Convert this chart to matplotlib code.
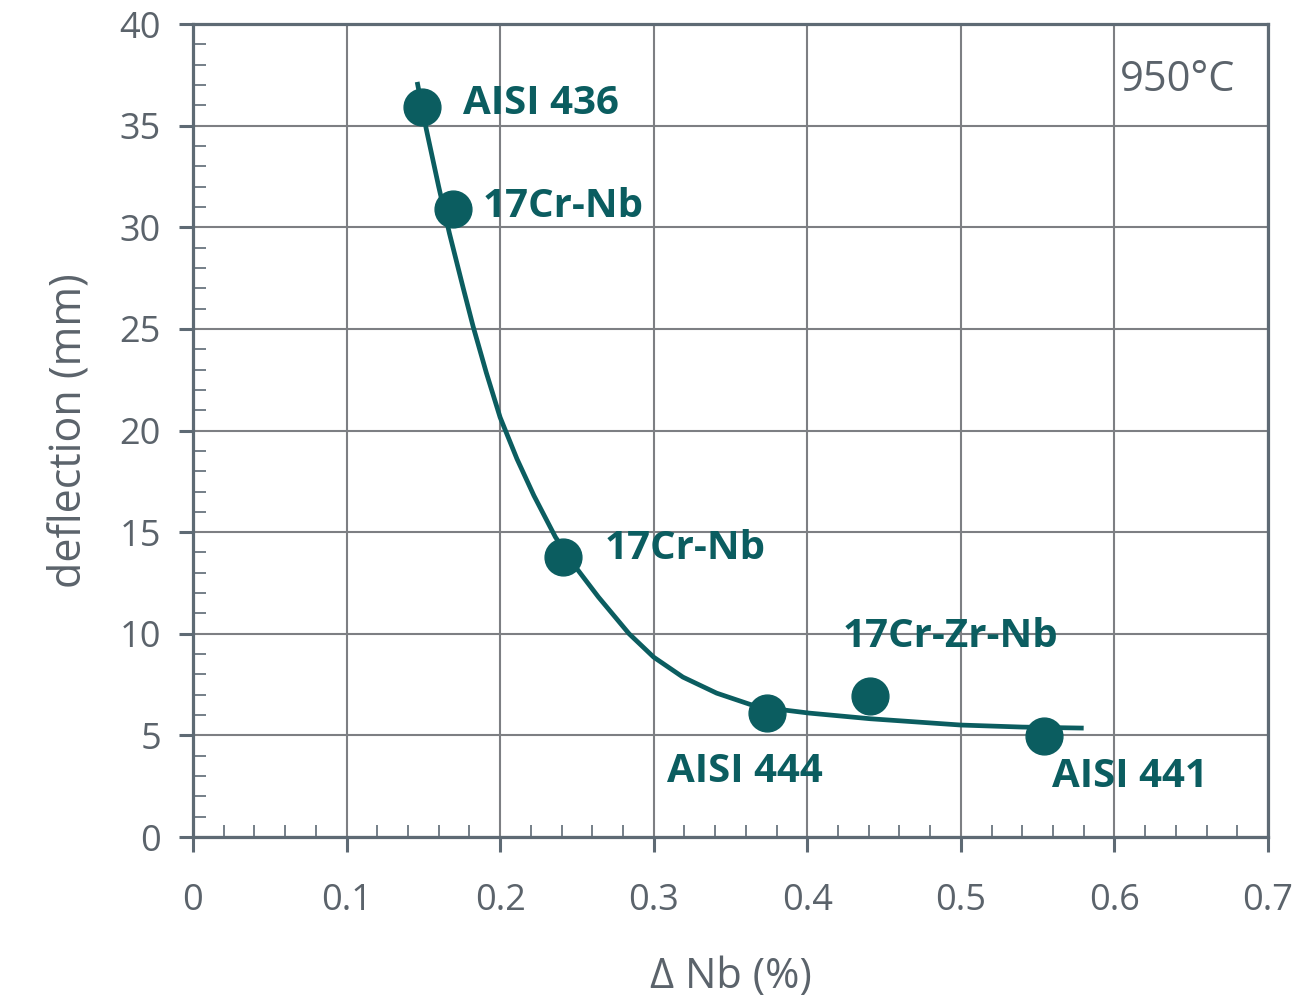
import numpy as np
import matplotlib.pyplot as plt
from matplotlib.ticker import MultipleLocator

# measured points
labels = ["AISI 436", "17Cr-Nb", "17Cr-Nb", "AISI 444", "17Cr-Zr-Nb", "AISI 441"]
nb = [0.149, 0.169, 0.241, 0.374, 0.441, 0.554]
deflection = [35.9, 30.9, 13.8, 6.1, 6.95, 4.98]

# trend curve
curve_nb = [0.146, 0.152, 0.160, 0.167, 0.176, 0.1825, 0.191, 0.200, 0.211, 0.222,
            0.236, 0.250, 0.264, 0.284, 0.300, 0.319, 0.341, 0.363, 0.374, 0.386,
            0.401, 0.441, 0.500, 0.540, 0.580]
curve_def = [37.15, 34.8, 32.0, 29.7, 27.0, 25.1, 22.85, 20.65, 18.6, 16.8,
             14.76, 13.2, 11.81, 10.0, 8.85, 7.87, 7.08, 6.52, 6.36, 6.24,
             6.1, 5.82, 5.51, 5.41, 5.36]

teal = "#0b5d60"
gray = "#5b636b"
spine_col = "#5e6a74"

plt.rcParams['font.family'] = ['Open Sans', 'DejaVu Sans']

fig = plt.figure(figsize=(13.03, 10.01), dpi=100)
ax = fig.add_axes([0.1481, 0.1638, 0.8250, 0.8122])

ax.plot(curve_nb, curve_def, color=teal, lw=3.4, solid_capstyle='butt',
        solid_joinstyle='round', zorder=3)
ax.plot(nb, deflection, 'o', color=teal, ms=26.5, zorder=4)

# label offsets in points (dx, dy, ha)
offsets = [(30, 3, 'left'), (22, 2, 'left'), (30, 6, 'left'),
           (-16, -42, 'center'), (58, 43, 'center'), (62, -29, 'center')]
for lab, x, y, (dx, dy, ha) in zip(labels, nb, deflection, offsets):
    ax.annotate(lab, (x, y), xytext=(dx, dy), textcoords='offset points',
                ha=ha, va='center', color=teal, fontsize=29, fontweight='bold')

ax.text(0.970, 0.931, "950°C", transform=ax.transAxes, ha='right', va='center',
        color=gray, fontsize=30)

ax.set_xlim(0, 0.7)
ax.set_ylim(0, 40)
ax.set_xticks(np.arange(0, 0.71, 0.1))
ax.set_xticklabels(["0", "0.1", "0.2", "0.3", "0.4", "0.5", "0.6", "0.7"])
ax.xaxis.set_minor_locator(MultipleLocator(0.02))
ax.yaxis.set_major_locator(MultipleLocator(5))
ax.yaxis.set_minor_locator(MultipleLocator(1))
ax.set_xlim(0, 0.7)

ax.grid(True, which='major', color='#7d7f83', lw=1.5)
ax.set_axisbelow(True)

ax.tick_params(axis='x', which='major', direction='out', length=11, width=2.2,
               color=spine_col, labelsize=26, labelcolor=gray, pad=22)
ax.tick_params(axis='y', which='major', direction='out', length=10, width=2.2,
               color=spine_col, labelsize=26, labelcolor=gray, pad=13)
ax.tick_params(which='minor', direction='in', length=9, width=1.2, color=spine_col)

for s in ax.spines.values():
    s.set_color(spine_col)
    s.set_linewidth(2.3)

ax.set_xlabel("Δ Nb (%)", fontsize=30, color=gray, labelpad=27)
ax.set_ylabel("deflection (mm)", fontsize=31, color=gray, labelpad=20)

fig.savefig("out.png", dpi=100)
